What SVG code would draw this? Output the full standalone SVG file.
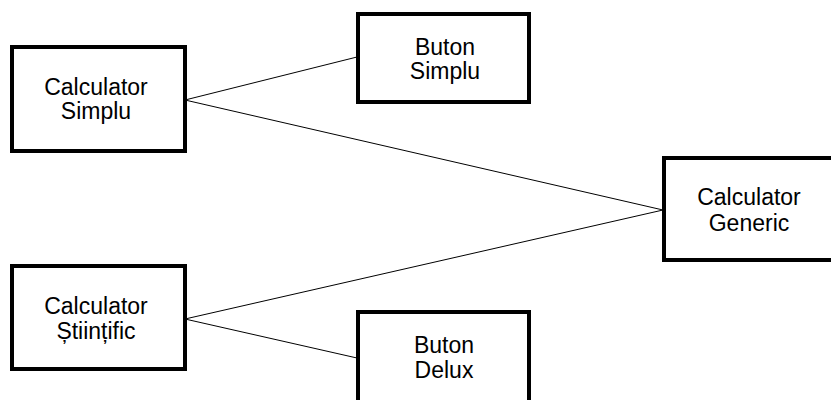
<svg xmlns="http://www.w3.org/2000/svg" width="831" height="400" viewBox="0 0 831 400">
<style>
.box{fill:#fff;stroke:#000;stroke-width:4}
.t{font-family:"Liberation Sans",Arial,sans-serif;font-size:23px;fill:#000;text-anchor:middle}
.c{stroke:#000;stroke-width:1;fill:none}
</style>
<rect width="831" height="400" fill="#fff"/>
<g id="connectors">
<line class="c" x1="185" y1="100" x2="357" y2="57"/>
<line class="c" x1="185" y1="100" x2="663" y2="210"/>
<line class="c" x1="185" y1="319" x2="663" y2="210"/>
<line class="c" x1="185" y1="319" x2="357" y2="358"/>
</g>
<g id="calc-simplu">
<rect class="box" x="12" y="47" width="173" height="104"/>
<text class="t" x="96" y="95">Calculator</text>
<text class="t" x="96" y="119">Simplu</text>
</g>
<g id="buton-simplu">
<rect class="box" x="358" y="14" width="171" height="88"/>
<text class="t" x="445" y="55">Buton</text>
<text class="t" x="445" y="79">Simplu</text>
</g>
<g id="calc-generic">
<rect class="box" x="664" y="158" width="175" height="102"/>
<text class="t" x="749" y="205">Calculator</text>
<text class="t" x="749" y="231">Generic</text>
</g>
<g id="calc-stiintific">
<rect class="box" x="12" y="266" width="173" height="103"/>
<text class="t" x="96" y="314">Calculator</text>
<text class="t" x="96" y="339">Științific</text>
</g>
<g id="buton-delux">
<rect class="box" x="358" y="312" width="171" height="100"/>
<text class="t" x="444" y="353">Buton</text>
<text class="t" x="444" y="378">Delux</text>
</g>
</svg>
